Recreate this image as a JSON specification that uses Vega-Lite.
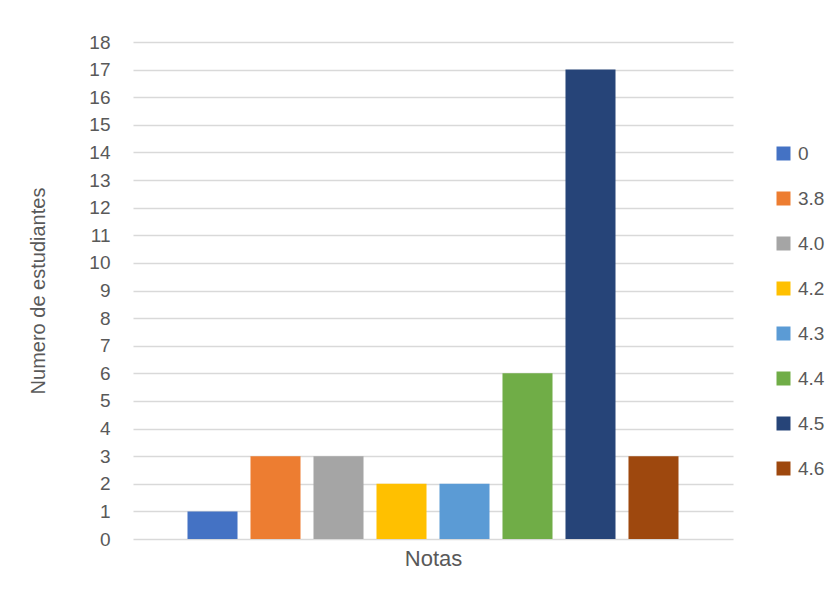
{
  "$schema": "https://vega.github.io/schema/vega-lite/v6.json",
  "width": 600,
  "height": 497,
  "autosize": "none",
  "padding": {"left": 133, "top": 42, "right": 105, "bottom": 64},
  "background": "white",
  "config": {"view": {"stroke": null}, "font": "Liberation Sans"},
  "data": {"values": [
    {"Nota": "0", "Estudiantes": 1},
    {"Nota": "3.8", "Estudiantes": 3},
    {"Nota": "4.0", "Estudiantes": 3},
    {"Nota": "4.2", "Estudiantes": 2},
    {"Nota": "4.3", "Estudiantes": 2},
    {"Nota": "4.4", "Estudiantes": 6},
    {"Nota": "4.5", "Estudiantes": 17},
    {"Nota": "4.6", "Estudiantes": 3}
  ]},
  "mark": {"type": "bar"},
  "encoding": {
    "x": {
      "field": "Nota", "type": "nominal",
      "sort": ["0", "3.8", "4.0", "4.2", "4.3", "4.4", "4.5", "4.6"],
      "scale": {"paddingInner": 0.206, "paddingOuter": 0.865},
      "axis": {"title": "Notas", "labels": false, "ticks": false, "domain": false, "titleFontSize": 22, "titleFontWeight": "normal", "titleColor": "#595959", "titlePadding": 9}
    },
    "y": {
      "field": "Estudiantes", "type": "quantitative",
      "scale": {"domain": [0, 18], "nice": false},
      "axis": {"title": "Numero de estudiantes", "values": [0,1,2,3,4,5,6,7,8,9,10,11,12,13,14,15,16,17,18], "ticks": false, "tickSize": 0, "domain": false, "labelPadding": 23, "labelFontSize": 19, "labelColor": "#595959", "titleFontSize": 20, "titleFontWeight": "normal", "titleColor": "#595959", "titlePadding": 40, "gridColor": "#d9d9d9", "gridWidth": 1.3}
    },
    "color": {
      "field": "Nota", "type": "nominal",
      "sort": ["0", "3.8", "4.0", "4.2", "4.3", "4.4", "4.5", "4.6"],
      "scale": {"domain": ["0", "3.8", "4.0", "4.2", "4.3", "4.4", "4.5", "4.6"], "range": ["#4472C4", "#ED7D31", "#A5A5A5", "#FFC000", "#5B9BD5", "#70AD47", "#264478", "#9E480E"]},
      "legend": {"title": null, "orient": "none", "legendX": 641, "legendY": 102, "symbolType": "square", "symbolSize": 196, "symbolStrokeWidth": 0, "labelFontSize": 19, "labelColor": "#595959", "rowPadding": 25, "labelOffset": 5}
    }
  }
}
